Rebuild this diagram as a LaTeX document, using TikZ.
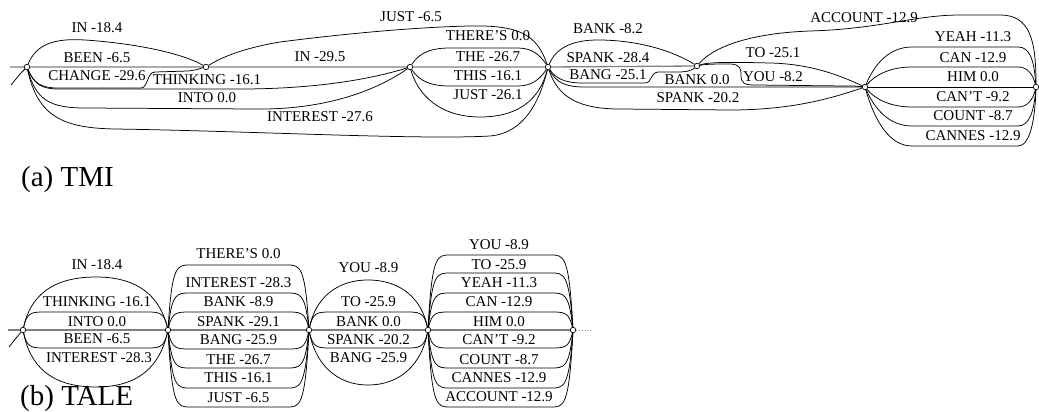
\documentclass[tikz,border=0pt]{standalone}
\usepackage{fontspec}
\setmainfont{Liberation Serif}
\usetikzlibrary{calc}

% a lane between two states, running at vertical offset #3 from the axis
\newcommand\tlane[3]{%
  \draw[edge] (#1) .. controls ($(#1)+(4,#3)$) and ($(#1)+(9,#3)$) .. ($(#1)+(22,#3)$)
    -- ($(#2)+(-22,#3)$) .. controls ($(#2)+(-9,#3)$) and ($(#2)+(-4,#3)$) .. (#2);}

\begin{document}
\begin{tikzpicture}[x=1pt,y=-1pt,
  lab/.style={font=\fontsize{15}{15}\selectfont, inner sep=0pt},
  captext/.style={font=\fontsize{29}{29}\selectfont, inner sep=0pt, anchor=base west},
  edge/.style={draw=black, line width=0.75pt},
  axis/.style={draw=black!50, line width=1.3pt},
  state/.style={circle, draw=black, fill=white, line width=0.7pt, minimum size=5.5pt, inner sep=0pt},
]
\useasboundingbox (0,0) rectangle (1039,412);

% ---------------- (a) TMI lattice ----------------
\node[state] (n0) at (27,67) {};
\node[state] (n1) at (206,67) {};
\node[state] (n2) at (410,67) {};
\node[state] (n3) at (548,67) {};
\node[state] (n4) at (697,66) {};
\node[state] (n5) at (865,87) {};
\node[state] (n6) at (1036,87) {};
\coordinate (ax0) at (10,67);
\coordinate (tl0) at (11,85);

\draw[axis] (ax0) -- (n0) -- (n1) -- (n2) -- (n3) -- (n4);
\draw[edge] (n0) .. controls (20,74) .. (tl0);

% n0 -> n1
\draw[edge] (n0) .. controls (36,44) and (55,38) .. (85,40) .. controls (130,43) and (180,52) .. (n1);
\draw[edge] (n0) .. controls (34,84) and (42,88) .. (58,88) -- (141,88) .. controls (148,88) and (147,72) .. (155,72) -- (188,71) .. controls (198,70) and (201,68) .. (n1);
% n0 -> n2
\draw[edge] (n0) .. controls (34,84) and (42,89) .. (58,89) -- (240,89) .. controls (320,89) and (375,78) .. (n2);
\draw[edge] (n0) .. controls (36,100) and (50,108) .. (85,108) -- (255,109) .. controls (330,110) and (380,88) .. (n2);
% n0 -> n3
\draw[edge] (n0) .. controls (38,118) and (65,128) .. (115,129) .. controls (250,131) and (420,140) .. (490,136) .. controls (525,133) and (540,100) .. (n3);
% n1 -> n3
\draw[edge] (n1) .. controls (225,55) and (250,47) .. (280,42) .. controls (350,33) and (420,27) .. (470,26) .. controls (520,25) and (537,35) .. (n3);
% n2 -> n3
\draw[edge] (n2) .. controls (420,52) and (432,48) .. (450,48) -- (518,48) .. controls (532,48) and (540,55) .. (n3);
\draw[edge] (n2) .. controls (420,82) and (432,86) .. (450,86) -- (518,86) .. controls (532,86) and (540,79) .. (n3);
\draw[edge] (n2) .. controls (418,95) and (440,117) .. (480,117) .. controls (520,117) and (540,98) .. (n3);
% n3 -> n4
\draw[edge] (n3) .. controls (556,48) and (572,40) .. (598,40) .. controls (640,40) and (675,52) .. (n4);
\draw[edge] (n3) .. controls (556,79) and (566,83) .. (582,83) -- (645,83) .. controls (652,83) and (650,73) .. (658,72) -- (678,72) .. controls (688,72) and (692,70) .. (n4);
% n3 -> n5
\draw[edge] (n3) .. controls (556,83) and (566,87) .. (585,87) -- (n5);
\draw[edge] (n3) .. controls (558,98) and (580,109) .. (620,109) -- (730,110) .. controls (795,110) and (835,97) .. (n5);
% n4 -> n5, n4 -> n6
\draw[edge] (n4) .. controls (715,45) and (755,33) .. (810,31) .. controls (880,29) and (915,15) .. (960,15) -- (1000,15) .. controls (1030,15) and (1036,40) .. (n6);
\draw[edge] (n4) .. controls (708,62) and (730,62) .. (770,63) .. controls (815,64) and (845,78) .. (n5);
\draw[edge] (n4) .. controls (706,64) and (718,64) .. (730,64) .. controls (741,64) and (741,70) .. (741,75) .. controls (741,83) and (744,85) .. (755,85) -- (845,86) .. controls (855,86) .. (n5);
% n5 -> n6
\draw[edge] (n5) .. controls (875,63) and (890,47) .. (912,47) -- (1018,47) .. controls (1030,47) and (1034,60) .. (n6);
\draw[edge] (n5) .. controls (875,75) and (890,67) .. (912,67) -- (1018,67) .. controls (1028,67) and (1033,75) .. (n6);
\draw[edge] (n5) -- (n6);
\draw[edge] (n5) .. controls (875,99) and (890,107) .. (912,107) -- (1018,107) .. controls (1028,107) and (1033,99) .. (n6);
\draw[edge] (n5) .. controls (875,110) and (890,126) .. (912,126) -- (1018,126) .. controls (1030,126) and (1034,110) .. (n6);
\draw[edge] (n5) .. controls (875,122) and (890,146) .. (912,146) -- (1018,146) .. controls (1030,146) and (1035,120) .. (n6);

\node[lab] (a1) at (97,28) {IN -18.4};
\node[lab] (a2) at (97,58) {BEEN -6.5};
\node[lab] (a3) at (97,76) {CHANGE -29.6};
\node[lab] (a4) at (207,80) {THINKING -16.1};
\node[lab] (a5) at (207,98) {INTO 0.0};
\node[lab] (a6) at (320,117) {INTEREST -27.6};
\node[lab] (a7) at (411,17) {JUST -6.5};
\node[lab] (a8) at (320,57) {IN -29.5};
\node[lab] (a9) at (488,36) {THERE'S 0.0};
\node[lab] (a10) at (488,57) {THE -26.7};
\node[lab] (a11) at (488,76) {THIS -16.1};
\node[lab] (a12) at (488,95) {JUST -26.1};
\node[lab] (a13) at (608,29) {BANK -8.2};
\node[lab] (a14) at (608,58) {SPANK -28.4};
\node[lab] (a15) at (608,75) {BANG -25.1};
\node[lab] (a16) at (697,80) {BANK 0.0};
\node[lab] (a17) at (698,98) {SPANK -20.2};
\node[lab] (a18) at (864,18) {ACCOUNT -12.9};
\node[lab] (a19) at (773,53) {TO -25.1};
\node[lab] (a20) at (773,77) {YOU -8.2};
\node[lab] (a21) at (973,37) {YEAH -11.3};
\node[lab] (a22) at (973,58) {CAN -12.9};
\node[lab] (a23) at (973,77) {HIM 0.0};
\node[lab] (a24) at (973,97) {CAN'T -9.2};
\node[lab] (a25) at (973,116) {COUNT -8.7};
\node[lab] (a26) at (973,136) {CANNES -12.9};

\node[captext] (capa) at (21,186) {(a) TMI};

% ---------------- (b) TALE lattice ----------------
\node[state] (m0) at (23,330) {};
\node[state] (m1) at (168,330) {};
\node[state] (m2) at (309,330) {};
\node[state] (m3) at (428,330) {};
\node[state] (m4) at (573,330) {};
\coordinate (bx0) at (8,330);
\coordinate (bx1) at (592,330);
\coordinate (tl1) at (9,347);

\draw[axis] (bx0) -- (m0) -- (m1) -- (m2) -- (m3) -- (m4);
\draw[draw=black!45, line width=0.8pt, dotted] (m4) -- (bx1);
\draw[edge] (m0) .. controls (16,338) .. (tl1);

% m0 -> m1
\draw[edge] (m0) .. controls (30,298) and (50,277) .. (96,277) .. controls (140,277) and (160,298) .. (m1);
\tlane{m0}{m1}{-18}
\tlane{m0}{m1}{18}
\draw[edge] (m0) .. controls (30,365) and (50,387) .. (96,387) .. controls (140,387) and (160,365) .. (m1);
% m1 -> m2
\tlane{m1}{m2}{-65}
\tlane{m1}{m2}{-37}
\tlane{m1}{m2}{-18}
\tlane{m1}{m2}{19}
\tlane{m1}{m2}{38}
\tlane{m1}{m2}{58}
\tlane{m1}{m2}{77}
% m2 -> m3
\draw[edge] (m2) .. controls (315,300) and (335,280) .. (368,280) .. controls (402,280) and (422,300) .. (m3);
\tlane{m2}{m3}{-18}
\tlane{m2}{m3}{18}
\draw[edge] (m2) .. controls (315,362) and (335,385) .. (368,385) .. controls (402,385) and (422,362) .. (m3);
% m3 -> m4
\tlane{m3}{m4}{-75}
\tlane{m3}{m4}{-57}
\tlane{m3}{m4}{-37}
\tlane{m3}{m4}{-18}
\tlane{m3}{m4}{18}
\tlane{m3}{m4}{38}
\tlane{m3}{m4}{58}
\tlane{m3}{m4}{77}

\node[lab] (b1) at (97,265) {IN -18.4};
\node[lab] (b2) at (97,302) {THINKING -16.1};
\node[lab] (b3) at (97,322) {INTO 0.0};
\node[lab] (b4) at (97,339) {BEEN -6.5};
\node[lab] (b5) at (99,358) {INTEREST -28.3};

\node[lab] (b6) at (238.5,254) {THERE'S 0.0};
\node[lab] (b7) at (238.5,283) {INTEREST -28.3};
\node[lab] (b8) at (238.5,302) {BANK -8.9};
\node[lab] (b9) at (238.5,322) {SPANK -29.1};
\node[lab] (b10) at (238.5,340) {BANG -25.9};
\node[lab] (b11) at (238.5,360) {THE -26.7};
\node[lab] (b12) at (238.5,378) {THIS -16.1};
\node[lab] (b13) at (238.5,398) {JUST -6.5};

\node[lab] (b14) at (368.5,268) {YOU -8.9};
\node[lab] (b15) at (368.5,302) {TO -25.9};
\node[lab] (b16) at (368.5,322) {BANK 0.0};
\node[lab] (b17) at (368.5,340) {SPANK -20.2};
\node[lab] (b18) at (368.5,358) {BANG -25.9};

\node[lab] (b19) at (499,245) {YOU -8.9};
\node[lab] (b20) at (499,265) {TO -25.9};
\node[lab] (b21) at (499,283) {YEAH -11.3};
\node[lab] (b22) at (499,302) {CAN -12.9};
\node[lab] (b23) at (499,322) {HIM 0.0};
\node[lab] (b24) at (499,340) {CAN'T -9.2};
\node[lab] (b25) at (499,360) {COUNT -8.7};
\node[lab] (b26) at (499,378) {CANNES -12.9};
\node[lab] (b27) at (499,397) {ACCOUNT -12.9};

\node[captext] (capb) at (20,405) {(b) TALE};
\end{tikzpicture}
\end{document}
